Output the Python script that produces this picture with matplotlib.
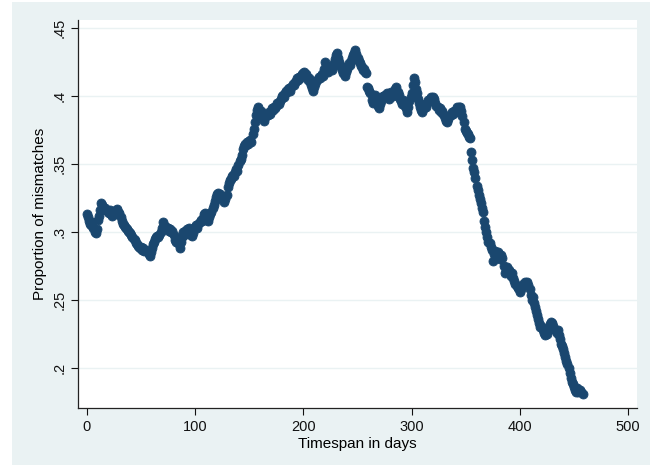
"""Proportion of mismatches over time, Stata s2color look."""

import matplotlib

matplotlib.use("Agg")
import matplotlib.pyplot as plt
from matplotlib.patches import Rectangle
from matplotlib.ticker import FuncFormatter

plt.rcParams["font.family"] = ["Liberation Sans", "DejaVu Sans"]

NAVY = "#1a476f"
PANEL = "#eaf2f3"

# one point per day
mismatch = [
    .313, .311, .308, .306, .305, .307, .303, .300, .299, .302,
    .309, .312, .316, .321, .320, .318, .317, .318, .316, .315,
    .314, .316, .313, .312, .314, .315, .313, .316, .317, .315,
    .314, .311, .308, .306, .305, .304, .303, .302, .301, .300,
    .299, .298, .296, .295, .294, .292, .291, .290, .289, .288,
    .289, .287, .288, .286, .287, .286, .285, .284, .282, .285,
    .288, .291, .293, .295, .296, .297, .296, .298, .300, .303,
    .307, .305, .303, .304, .302, .303, .301, .302, .300, .301,
    .298, .294, .293, .295, .292, .294, .288, .293, .296, .300,
    .298, .301, .302, .299, .303, .300, .298, .297, .299, .302,
    .304, .305, .303, .306, .307, .309, .308, .310, .313, .314,
    .311, .309, .308, .311, .313, .315, .318, .320, .323, .326,
    .328, .329, .327, .328, .326, .325, .324, .322, .324, .327,
    .333, .336, .338, .339, .341, .342, .341, .344, .346, .345,
    .349, .352, .354, .357, .361, .363, .365, .364, .366, .365,
    .367, .368, .366, .372, .376, .381, .386, .390, .392, .389,
    .387, .389, .386, .384, .382, .385, .387, .386, .388, .387,
    .389, .391, .390, .392, .391, .393, .395, .394, .396, .398,
    .400, .401, .399, .402, .404, .403, .405, .406, .404, .407,
    .409, .408, .410, .411, .413, .412, .414, .413, .415, .416,
    .417, .418, .416, .414, .412, .413, .410, .408, .406, .404,
    .407, .409, .411, .412, .414, .413, .415, .416, .415, .420,
    .425, .422, .419, .418, .420, .421, .419, .422, .424, .427,
    .430, .432, .428, .425, .423, .421, .419, .417, .415, .418,
    .420, .422, .424, .423, .426, .428, .430, .432, .434, .431,
    .428, .426, .424, .422, .421, .419, .420, .418, .417, .407,
    .406, .404, .402, .397, .395, .399, .401, .398, .396, .393,
    .391, .394, .396, .399, .400, .401, .399, .402, .400, .398,
    .401, .403, .401, .400, .402, .405, .407, .403, .401, .398,
    .396, .394, .397, .395, .393, .391, .388, .392, .396, .399,
    .402, .408, .413, .410, .405, .402, .398, .395, .392, .390,
    .388, .391, .394, .392, .395, .397, .396, .398, .399, .397,
    .399, .398, .395, .393, .392, .390, .391, .388, .389, .387,
    .386, .384, .382, .381, .383, .385, .386, .388, .387, .389,
    .388, .390, .392, .390, .392, .392, .389, .385, .381, .376,
    .374, .373, .372, .370, .369, .359, .353, .347, .344, .340,
    .334, .331, .327, .324, .321, .318, .315, .308, .304, .300,
    .296, .293, .292, .289, .287, .279, .284, .286, .284, .283,
    .285, .282, .280, .283, .281, .275, .270, .272, .274, .271,
    .272, .270, .268, .270, .266, .264, .262, .260, .259, .258,
    .256, .258, .260, .262, .261, .263, .262, .263, .261, .258,
    .254, .250, .252, .248, .245, .242, .239, .236, .233, .230,
    .231, .228, .226, .224, .226, .225, .228, .230, .232, .234,
    .233, .231, .229, .227, .226, .228, .224, .221, .218, .216,
    .214, .211, .208, .205, .203, .200, .196, .193, .190, .188,
    .186, .184, .182, .185, .182, .183, .184, .182, .181,
]
days = list(range(len(mismatch)))

x_ticks = [0, 100, 200, 300, 400, 500]
y_ticks = [.2, .25, .3, .35, .4, .45]


def stata_label(value, _pos):
    text = f"{value:g}"
    return text[1:] if text.startswith("0.") else text


fig = plt.figure(figsize=(6.6, 4.7), dpi=100)
fig.patches.append(
    Rectangle((12 / 660, 5 / 470), 638 / 660, 463 / 470,
              transform=fig.transFigure, facecolor=PANEL, edgecolor="none", zorder=-1)
)
ax = fig.add_axes([78 / 660, 62 / 470, 559 / 660, 388 / 470])
ax.set_facecolor("white")

ax.scatter(days, mismatch, s=42, color=NAVY, edgecolors=NAVY, linewidths=0.6, zorder=3)

ax.set_xlim(-8.3, 508.3)
ax.set_ylim(0.1706, 0.4559)
ax.set_xticks(x_ticks)
ax.set_yticks(y_ticks)
ax.yaxis.set_major_formatter(FuncFormatter(stata_label))
ax.grid(axis="y", color=PANEL, linewidth=1.0)
ax.set_axisbelow(True)

for side in ("top", "right"):
    ax.spines[side].set_visible(False)
for side in ("left", "bottom"):
    ax.spines[side].set_color("#222222")
    ax.spines[side].set_linewidth(0.9)

ax.tick_params(axis="both", colors="#111111", labelsize=10.5, length=5, width=0.8)
plt.setp(ax.get_yticklabels(), rotation=90, va="center")
ax.set_xlabel("Timespan in days", fontsize=11, labelpad=2)
ax.set_ylabel("Proportion of mismatches", fontsize=11, labelpad=4)

fig.savefig("out.png", dpi=100)
plt.close(fig)
